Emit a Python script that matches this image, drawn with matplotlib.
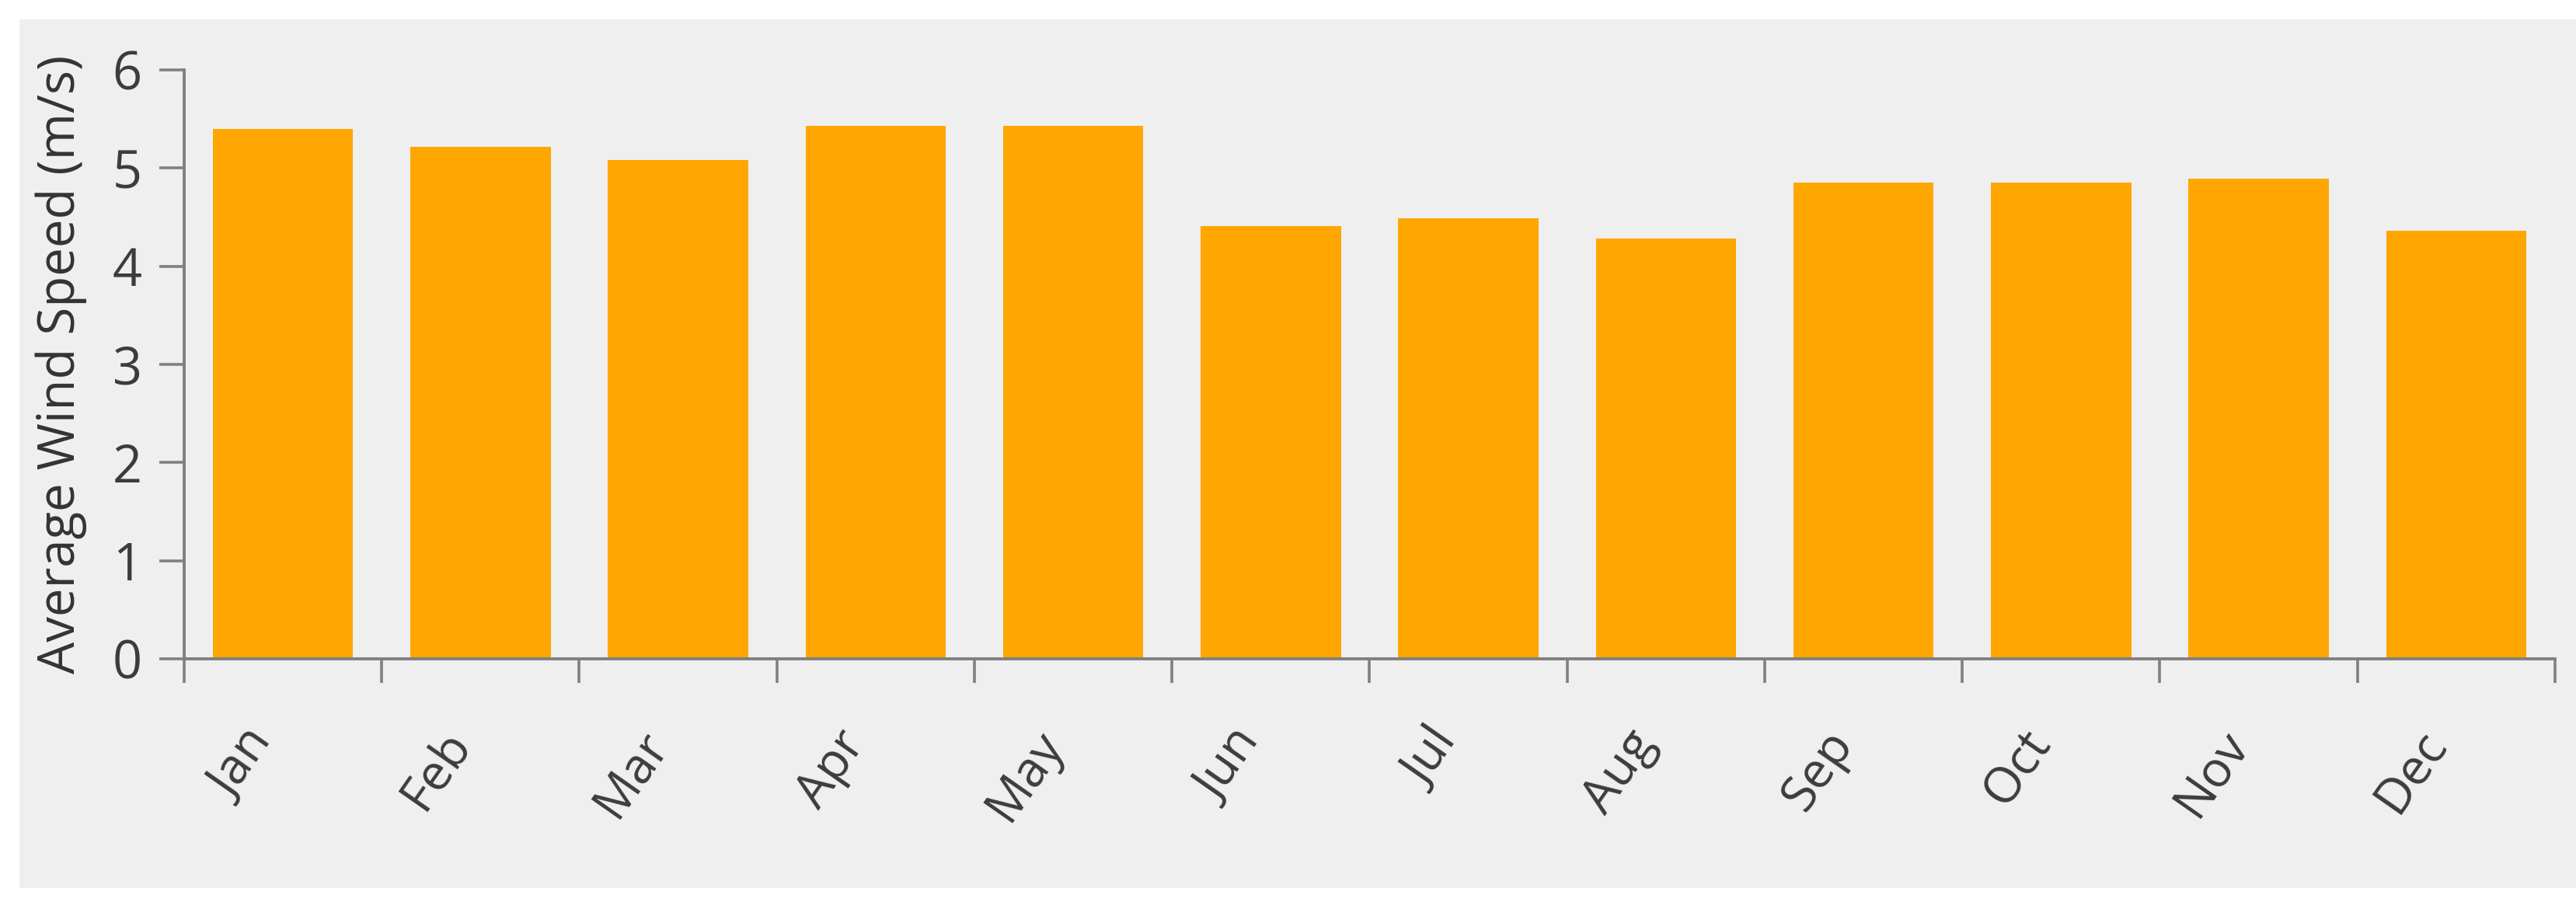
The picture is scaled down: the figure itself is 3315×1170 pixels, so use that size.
import matplotlib.pyplot as plt
from matplotlib.patches import Rectangle
import numpy as np

# monthly averages
months = ['Jan', 'Feb', 'Mar', 'Apr', 'May', 'Jun',
          'Jul', 'Aug', 'Sep', 'Oct', 'Nov', 'Dec']
wind_speed = [5.40, 5.22, 5.08, 5.43, 5.43, 4.41,
              4.49, 4.28, 4.85, 4.85, 4.89, 4.36]
y_ticks = [0, 1, 2, 3, 4, 5, 6]

plt.rcParams['font.family'] = ['Open Sans', 'DejaVu Sans']

W, H = 3316, 1170
fig = plt.figure(figsize=(W / 100, H / 100), dpi=100, facecolor='white')

# grey panel behind the chart
fig.patches.append(Rectangle((25 / W, 1 - 1143 / H), (W - 25) / W, (1143 - 25) / H,
                             transform=fig.transFigure, facecolor='#efefef',
                             edgecolor='none', zorder=-1))

ax = fig.add_axes([237 / W, 1 - 848 / H, (3288 - 237) / W, (848 - 90) / H])
ax.set_facecolor('none')
ax.set_zorder(1)

x = np.arange(len(months))
ax.bar(x, wind_speed, width=0.71, color='#ffa600', zorder=2)

ax.set_xlim(-0.5, len(months) - 0.5)
ax.set_ylim(0, 6)

axis_grey = '#808080'
for side in ['top', 'right']:
    ax.spines[side].set_visible(False)
for side in ['left', 'bottom']:
    ax.spines[side].set_color(axis_grey)
    ax.spines[side].set_linewidth(2.8)
    ax.spines[side].set_zorder(3)

ax.set_yticks(y_ticks)
ax.tick_params(axis='y', length=23, width=2.6, color=axis_grey, pad=16,
               labelsize=48, labelcolor='#3c3c3c')

# ticks sit on category boundaries, labels on category centres
ax.set_xticks(np.arange(len(months) + 1) - 0.5)
ax.set_xticklabels([])
ax.set_xticks(x, minor=True)
ax.set_xticklabels(months, minor=True, rotation=55, ha='right',
                   rotation_mode='default')
ax.tick_params(axis='x', which='major', length=22, width=2.6, color=axis_grey)
ax.tick_params(axis='x', which='minor', length=0, pad=58,
               labelsize=46, labelcolor='#3c3c3c')

ax.set_ylabel('Average Wind Speed (m/s)', fontsize=47, color='#333333')
ax.yaxis.set_label_coords(-0.041, 0.5)

fig.savefig('out.png', dpi=100, facecolor='white')
